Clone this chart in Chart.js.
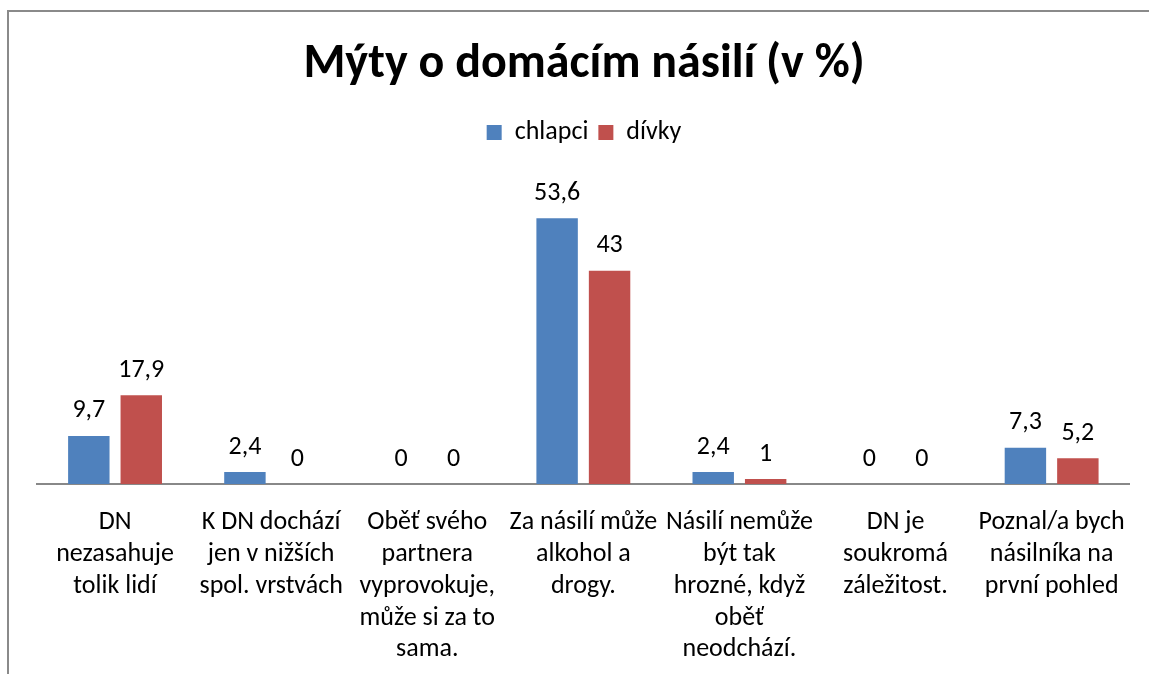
<!DOCTYPE html>
<html>
<head>
<meta charset="utf-8">
<script src="https://cdn.jsdelivr.net/npm/chart.js@4"></script>
<style>
  html, body { margin: 0; padding: 0; background: #fff; overflow: hidden; }
  #frame { position: absolute; left: 7px; top: 10px; width: 2000px; height: 2000px;
           border-left: 2px solid #8a8a8a; border-top: 2px solid #8a8a8a; box-sizing: border-box; }
  #wrap { position: absolute; left: 0; top: 0; width: 1149px; height: 674px; }
</style>
</head>
<body>
<div id="frame"></div>
<div id="wrap"><canvas id="c" width="1149" height="674"></canvas></div>
<script>
const titleText = 'Mýty o domácím násilí (v %)';
const seriesNames = ['chlapci', 'dívky'];
const categories = [
  ['DN', 'nezasahuje', 'tolik lidí'],
  ['K DN dochází', 'jen v nižších', 'spol. vrstvách'],
  ['Oběť svého', 'partnera', 'vyprovokuje,', 'může si za to', 'sama.'],
  ['Za násilí může', 'alkohol a', 'drogy.'],
  ['Násilí nemůže', 'být tak', 'hrozné, když', 'oběť', 'neodchází.'],
  ['DN je', 'soukromá', 'záležitost.'],
  ['Poznal/a bych', 'násilníka na', 'první pohled']
];
const chlapci = [9.7, 2.4, 0, 53.6, 2.4, 0, 7.3];
const divky = [17.9, 0, 0, 43, 1, 0, 5.2];

const FONT = 'Carlito, Lato, sans-serif';

const dataLabels = {
  id: 'dataLabels',
  afterDatasetsDraw(chart) {
    const ctx = chart.ctx;
    ctx.save();
    ctx.font = '26px ' + FONT;
    ctx.fillStyle = '#000';
    ctx.textAlign = 'center';
    ctx.textBaseline = 'middle';
    chart.data.datasets.forEach((ds, di) => {
      const meta = chart.getDatasetMeta(di);
      meta.data.forEach((el, i) => {
        const v = ds.data[i];
        ctx.fillText(String(v).replace('.', ','), el.x, el.y - 25);
      });
    });
    ctx.restore();
  }
};

new Chart(document.getElementById('c'), {
  type: 'bar',
  data: {
    labels: categories,
    datasets: [
      { label: seriesNames[0], data: chlapci, backgroundColor: '#4F81BD', borderWidth: 0,
        barPercentage: 0.79, categoryPercentage: 0.672 },
      { label: seriesNames[1], data: divky, backgroundColor: '#C0504D', borderWidth: 0,
        barPercentage: 0.79, categoryPercentage: 0.672 }
    ]
  },
  options: {
    responsive: false,
    animation: false,
    devicePixelRatio: 1,
    layout: { padding: { left: 37, right: 18, top: 0, bottom: 0 } },
    plugins: {
      title: { display: true, text: titleText, color: '#000',
               font: { family: FONT, size: 48, weight: 'bold', lineHeight: 1.2 },
               padding: { top: 36, bottom: 16 } },
      subtitle: { display: true, text: ' ', position: 'top', weight: 500,
                  font: { size: 1, lineHeight: 1 }, padding: { top: 15, bottom: 15 } },
      legend: { display: true, position: 'top',
                labels: { boxWidth: 15, boxHeight: 15, color: '#000',
                          font: { family: FONT, size: 26 }, padding: 10 } },
      tooltip: { enabled: false }
    },
    scales: {
      x: {
        grid: { display: false, drawTicks: false },
        border: { display: true, color: '#888', width: 2 },
        ticks: { color: '#000', font: { family: FONT, size: 26, lineHeight: 1.22 },
                 padding: 23, maxRotation: 0, autoSkip: false },
        afterFit(axis) { axis.height = 190; }
      },
      y: { display: false, min: 0, max: 60 }
    }
  },
  plugins: [dataLabels]
});
</script>
</body>
</html>
